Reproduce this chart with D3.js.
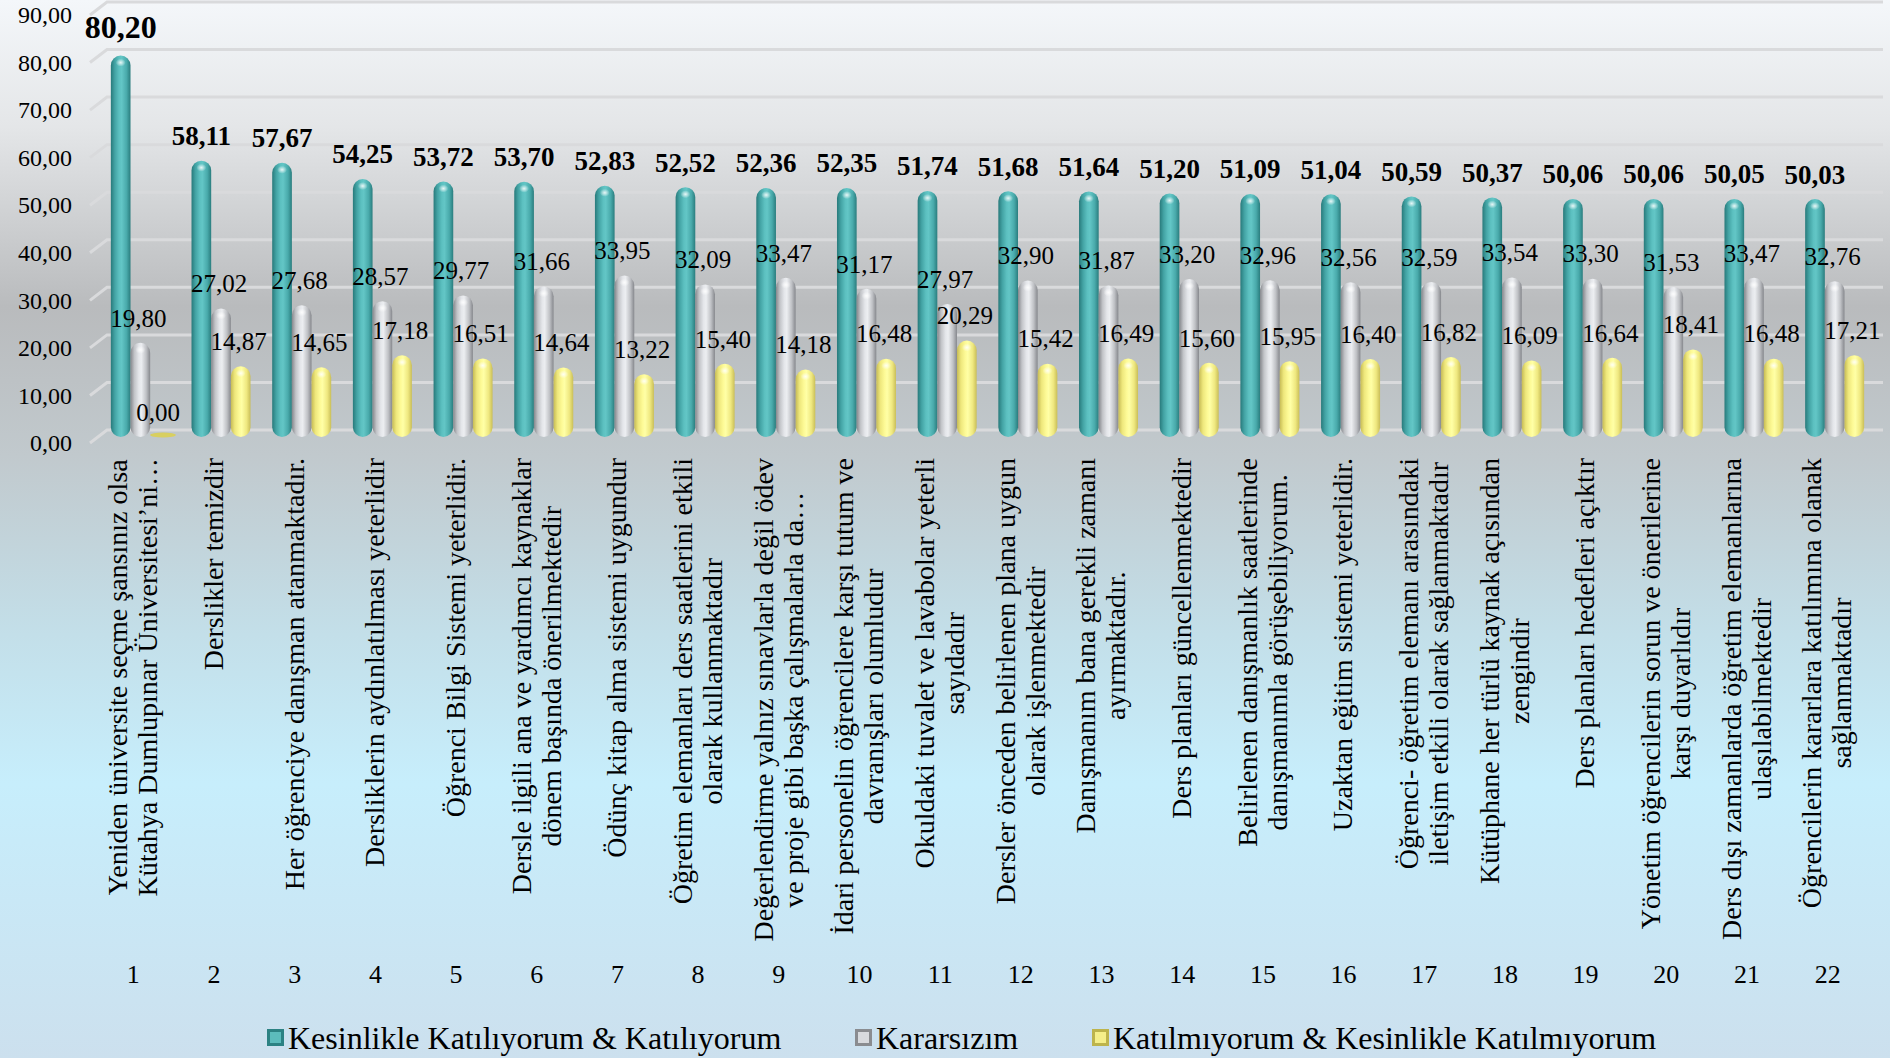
<!DOCTYPE html>
<html lang="tr"><head>
<meta charset="utf-8">
<title>memnuniyet</title>
<script src="https://cdn.jsdelivr.net/npm/d3@7"></script>
<style>
  body { margin: 0; }
  svg text { font-family: "Liberation Serif", "DejaVu Serif", serif; fill: #000; }
</style>
</head>
<body>
<svg width="1890" height="1058"></svg>
<script>

var categories = ["1","2","3","4","5","6","7","8","9","10","11","12","13","14","15","16","17","18","19","20","21","22"];

var questions = [
  ["Yeniden üniversite seçme şansınız olsa", "Kütahya Dumlupınar Üniversitesi’ni…"],
  ["Derslikler temizdir"],
  ["Her öğrenciye danışman atanmaktadır."],
  ["Dersliklerin aydınlatılması yeterlidir"],
  ["Öğrenci Bilgi Sistemi yeterlidir."],
  ["Dersle ilgili ana ve yardımcı kaynaklar", "dönem başında önerilmektedir"],
  ["Ödünç kitap alma sistemi uygundur"],
  ["Öğretim elemanları ders saatlerini etkili", "olarak kullanmaktadır"],
  ["Değerlendirme yalnız sınavlarla değil ödev", "ve proje gibi başka çalışmalarla da…"],
  ["İdari personelin öğrencilere karşı tutum ve", "davranışları olumludur"],
  ["Okuldaki tuvalet ve lavabolar yeterli", "sayıdadır"],
  ["Dersler önceden belirlenen plana uygun", "olarak işlenmektedir"],
  ["Danışmanım bana gerekli zamanı", "ayırmaktadır."],
  ["Ders planları güncellenmektedir"],
  ["Belirlenen danışmanlık saatlerinde", "danışmanımla görüşebiliyorum."],
  ["Uzaktan eğitim sistemi yeterlidir."],
  ["Öğrenci- öğretim elemanı arasındaki", "iletişim etkili olarak sağlanmaktadır"],
  ["Kütüphane her türlü kaynak açısından", "zengindir"],
  ["Ders planları hedefleri açıktır"],
  ["Yönetim öğrencilerin sorun ve önerilerine", "karşı duyarlıdır"],
  ["Ders dışı zamanlarda öğretim elemanlarına", "ulaşılabilmektedir"],
  ["Öğrencilerin kararlara katılımına olanak", "sağlanmaktadır"]
];

var seriesNames = ["Kesinlikle Katılıyorum & Katılıyorum", "Kararsızım", "Katılmıyorum & Kesinlikle Katılmıyorum"];

var agree = [80.20,58.11,57.67,54.25,53.72,53.70,52.83,52.52,52.36,52.35,51.74,51.68,51.64,51.20,51.09,51.04,50.59,50.37,50.06,50.06,50.05,50.03];
var undecided = [19.80,27.02,27.68,28.57,29.77,31.66,33.95,32.09,33.47,31.17,27.97,32.90,31.87,33.20,32.96,32.56,32.59,33.54,33.30,31.53,33.47,32.76];
var disagree = [0.00,14.87,14.65,17.18,16.51,14.64,13.22,15.40,14.18,16.48,20.29,15.42,16.49,15.60,15.95,16.40,16.82,16.09,16.64,18.41,16.48,17.21];

var yTicks = [0,10,20,30,40,50,60,70,80,90];

var svg = d3.select("svg"),
    width = +svg.attr("width"),
    height = +svg.attr("height");

var serif = "'Liberation Serif', 'DejaVu Serif', serif";
var fmt = function(v){ return d3.format(".2f")(v).replace(".", ","); };

var defs = svg.append("defs");

// background
var bg = defs.append("linearGradient").attr("id","bg").attr("x1",0).attr("y1",0).attr("x2",0).attr("y2",1);
[[0,"#f4f7fa"],[0.12,"#e4e6e8"],[0.29,"#b9bbbd"],[0.43,"#c1c9cd"],[0.6,"#c3dfe9"],[0.74,"#c7eefc"],[1,"#cce0ee"]]
  .forEach(function(s){ bg.append("stop").attr("offset",s[0]).attr("stop-color",s[1]); });
svg.append("rect").attr("width",width).attr("height",height).attr("fill","url(#bg)");

// cylinder shading per series
var shades = [
  ["#287a7b","#43a3a4","#5cc0c0","#63c6c6","#49aaab","#2a7d7e"],
  ["#85878c","#c2c4c8","#e4e6ea","#eceef1","#bfc1c5","#86888d"],
  ["#c6bb55","#eee77c","#fdfa96","#ffffa6","#efe880","#c9be58"]
];
shades.forEach(function(c, k){
  var g = defs.append("linearGradient").attr("id","cyl"+k).attr("x1",0).attr("x2",1).attr("y1",0).attr("y2",0);
  [0,0.2,0.42,0.55,0.8,1].forEach(function(o,j){ g.append("stop").attr("offset",o).attr("stop-color",c[j]); });
});
var hl = defs.append("radialGradient").attr("id","hl");
hl.append("stop").attr("offset",0).attr("stop-color","#fff").attr("stop-opacity",0.85);
hl.append("stop").attr("offset",1).attr("stop-color","#fff").attr("stop-opacity",0);

var x = d3.scaleBand().domain(categories).range([100, 1875]).padding(0);
var groupW = 59;
var sub = d3.scaleBand().domain([0,1,2]).range([0, groupW]);
var y = d3.scaleLinear().domain([0, 90]).range([437, 9]);
var yLab = d3.scaleLinear().domain([0, 90]).range([443, 15]);

function cx(i){ return x(categories[i]) + x.bandwidth()/2; }

// 3d gridlines: slanted side wall + back wall
var grid = svg.append("g");
yTicks.forEach(function(t){
  grid.append("path")
    .attr("d", "M90," + (y(t)+6) + "L107," + (y(t)-7) + "L1883," + (y(t)-7))
    .attr("fill","none").attr("stroke","#d9dadc").attr("stroke-width",3);
});

// y axis labels
var yAxis = d3.axisLeft(yLab).tickValues(yTicks).tickFormat(fmt).tickSize(0).tickPadding(0);
var yg = svg.append("g").attr("transform","translate(72,0)").call(yAxis);
yg.attr("font-family", null);
yg.select(".domain").remove();
yg.selectAll("text").style("font-family",serif).style("font-size","24px").attr("fill","#000");

// bars
var series = [agree, undecided, disagree];
var bars = svg.append("g");
series.forEach(function(vals, k){
  vals.forEach(function(v, i){
    var bx = cx(i) - groupW/2 + sub(k);
    var bw = sub.bandwidth();
    if (v > 0) {
      bars.append("rect")
        .attr("x", bx).attr("y", y(v))
        .attr("width", bw).attr("height", y(0) - y(v))
        .attr("rx", bw/2).attr("ry", bw/2)
        .attr("fill", "url(#cyl"+k+")");
      bars.append("ellipse")
        .attr("cx", bx + bw/2).attr("cy", y(v) + 7)
        .attr("rx", 5).attr("ry", 4)
        .attr("fill", "url(#hl)");
    } else {
      bars.append("ellipse")
        .attr("cx", bx + bw/2 + 3).attr("cy", y(0) - 2)
        .attr("rx", bw/2 + 3).attr("ry", 2.5)
        .attr("fill", "#d8cf60");
    }
  });
});

// data labels
var labels = svg.append("g");
series.forEach(function(vals, k){
  vals.forEach(function(v, i){
    var bx = cx(i) - groupW/2 + sub(k) + sub.bandwidth()/2;
    labels.append("text")
      .attr("x", k == 0 ? bx : bx - 2)
      .attr("y", y(v) - (k == 0 && i == 0 ? 29 : 25))
      .attr("dy", "0.35em")
      .attr("text-anchor", "middle")
      .style("font-family", serif)
      .style("font-size", k == 0 ? (i == 0 ? "32px" : "27px") : "25px")
      .style("font-weight", k == 0 ? "bold" : "normal")
      .text(fmt(v));
  });
});

// rotated question labels
var qg = svg.append("g");
questions.forEach(function(lines, i){
  var g = qg.append("g").attr("transform", "translate(" + (cx(i) - 8) + ",458) rotate(-90)");
  var lh = 30;
  var ts = lines.map(function(line, j){
    return g.append("text")
      .attr("x", 0)
      .attr("y", (j - (lines.length - 1)/2) * lh)
      .attr("dy", "0.35em")
      .attr("text-anchor", "middle")
      .style("font-family", serif)
      .style("font-size", "28px")
      .text(line);
  });
  var maxLen = d3.max(ts, function(t){ return t.node().getComputedTextLength(); });
  ts.forEach(function(t){ t.attr("x", -maxLen/2); });
});

// category numbers
svg.append("g").selectAll("text")
  .data(categories)
  .enter().append("text")
    .attr("x", function(d, i){ return cx(i) - 7; })
    .attr("y", 974)
    .attr("dy", "0.35em")
    .attr("text-anchor", "middle")
    .style("font-family", serif)
    .style("font-size", "26px")
    .text(function(d){ return d; });

// legend
var legendX = [267, 855, 1092];
var legendColors = [["#2c8283","#5cbcbc"],["#8a8c90","#d8dade"],["#bdb44c","#f5ef8a"]];
var leg = svg.append("g");
seriesNames.forEach(function(name, k){
  var lx = legendX[k], ly = 1029;
  leg.append("rect").attr("x", lx).attr("y", ly).attr("width", 17).attr("height", 17).attr("fill", legendColors[k][0]);
  leg.append("rect").attr("x", lx + 3).attr("y", ly + 3).attr("width", 11).attr("height", 11).attr("fill", legendColors[k][1]);
  leg.append("text")
    .attr("x", lx + 21).attr("y", ly + 9)
    .attr("dy", "0.35em")
    .style("font-family", serif)
    .style("font-size", "32px")
    .text(name);
});

</script>
</body>
</html>
